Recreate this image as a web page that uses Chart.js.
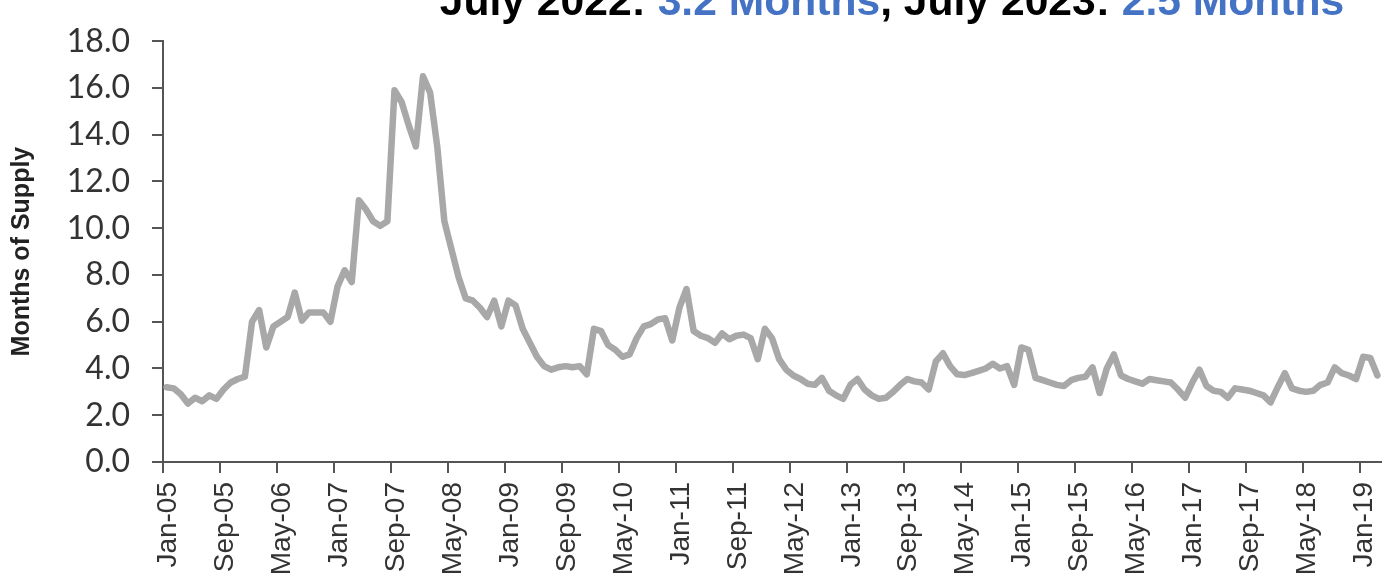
<!DOCTYPE html>
<html>
<head>
<meta charset="utf-8">
<script src="https://cdn.jsdelivr.net/npm/chart.js@4"></script>
<style>
  html, body { margin: 0; padding: 0; background: #fff; overflow: hidden; }
  canvas { display: block; }
</style>
</head>
<body>
<canvas id="supply" width="1388" height="582"></canvas>
<script>
// months of supply, one array per year
const v2005 = [3.2, 3.15, 2.9, 2.5, 2.75, 2.6, 2.85, 2.7, 3.1, 3.4, 3.55, 3.65];
const v2006 = [6.0, 6.5, 4.9, 5.8, 6.0, 6.2, 7.25, 6.05, 6.4, 6.4, 6.4, 6.0];
const v2007 = [7.5, 8.2, 7.7, 11.2, 10.8, 10.3, 10.1, 10.3, 15.9, 15.4, 14.4, 13.5];
const v2008 = [16.5, 15.8, 13.5, 10.3, 9.1, 7.9, 7.0, 6.9, 6.6, 6.2, 6.9, 5.8];
const v2009 = [6.9, 6.7, 5.7, 5.1, 4.5, 4.1, 3.95, 4.05, 4.1, 4.05, 4.1, 3.75];
const v2010 = [5.7, 5.6, 5.0, 4.8, 4.5, 4.6, 5.3, 5.8, 5.9, 6.1, 6.15, 5.2];
const v2011 = [6.6, 7.4, 5.6, 5.4, 5.3, 5.1, 5.5, 5.25, 5.4, 5.45, 5.3, 4.4];
const v2012 = [5.7, 5.3, 4.4, 3.95, 3.7, 3.55, 3.35, 3.3, 3.6, 3.05, 2.85, 2.7];
const v2013 = [3.3, 3.55, 3.1, 2.85, 2.7, 2.75, 3.0, 3.3, 3.55, 3.45, 3.4, 3.1];
const v2014 = [4.3, 4.65, 4.1, 3.75, 3.72, 3.8, 3.9, 4.0, 4.2, 4.0, 4.1, 3.3];
const v2015 = [4.9, 4.8, 3.6, 3.5, 3.4, 3.3, 3.25, 3.5, 3.6, 3.65, 4.05, 2.95];
const v2016 = [4.0, 4.6, 3.7, 3.55, 3.45, 3.35, 3.55, 3.5, 3.45, 3.4, 3.1, 2.75];
const v2017 = [3.4, 3.95, 3.25, 3.05, 3.0, 2.75, 3.15, 3.1, 3.05, 2.95, 2.85, 2.55];
const v2018 = [3.2, 3.8, 3.15, 3.05, 3.0, 3.05, 3.3, 3.4, 4.05, 3.8, 3.7, 3.55];
const v2019 = [4.5, 4.45, 3.7];

const monthNames = ["Jan", "Feb", "Mar", "Apr", "May", "Jun", "Jul", "Aug", "Sep", "Oct", "Nov", "Dec"];
const firstYear = 5;
const tickEvery = 8;

const yTitle = "Months of Supply";
const titleParts = [
  ["July 2022: ", "#000000"],
  ["3.2 Months", "#4472c4"],
  [", July 2023: ", "#000000"],
  ["2.5 Months", "#4472c4"]
];

const supply = [].concat(v2005, v2006, v2007, v2008, v2009, v2010, v2011, v2012,
                         v2013, v2014, v2015, v2016, v2017, v2018, v2019);

const labels = supply.map(function(_, i) {
  const yr = firstYear + Math.floor(i / 12);
  return monthNames[i % 12] + "-" + (yr < 10 ? "0" + yr : yr);
});

// each month sits in the middle of its slot, like in Excel
const points = supply.map((v, i) => ({ x: i + 0.5, y: v }));

// title is drawn in pieces so the numbers can be blue
const titlePlugin = {
  id: "splitTitle",
  afterDraw(chart) {
    const ctx = chart.ctx;
    ctx.save();
    let size = 36;
    ctx.font = "bold " + size + "px 'Liberation Sans', Arial, sans-serif";
    let full = titleParts.map(p => p[0]).join("");
    let w = ctx.measureText(full).width;
    size = size * 905 / w;
    ctx.font = "bold " + size + "px 'Liberation Sans', Arial, sans-serif";
    w = ctx.measureText(full).width;
    let x = 892 - w / 2;
    ctx.textBaseline = "alphabetic";
    ctx.textAlign = "left";
    titleParts.forEach(function(p) {
      ctx.fillStyle = p[1];
      ctx.fillText(p[0], x, 15);
      x += ctx.measureText(p[0]).width;
    });
    ctx.restore();
  }
};

const ctx = document.getElementById("supply").getContext("2d");

new Chart(ctx, {
  type: "line",
  data: {
    datasets: [{
      data: points,
      borderColor: "#a8a8a8",
      borderWidth: 6.5,
      borderJoinStyle: "round",
      borderCapStyle: "round",
      pointRadius: 0,
      tension: 0,
      fill: false
    }]
  },
  options: {
    responsive: false,
    animation: false,
    layout: { padding: { left: 0, right: 7, top: 24, bottom: 0 } },
    plugins: {
      legend: { display: false },
      tooltip: { enabled: false },
      title: { display: false }
    },
    scales: {
      x: {
        type: "linear",
        min: 0,
        max: labels.length,
        afterBuildTicks: function(axis) {
          axis.ticks = labels.map((_, i) => i)
            .filter(i => i % tickEvery === 0)
            .map(i => ({ value: i }));
        },
        afterFit: function(s) {
          s.height = 120;
          s.paddingLeft = 0;
          s.paddingRight = 0;
        },
        grid: {
          drawOnChartArea: false,
          drawTicks: true,
          tickLength: 11,
          color: "#555555",
          lineWidth: 2
        },
        border: { display: true, color: "#555555", width: 2 },
        ticks: {
          autoSkip: false,
          minRotation: 90,
          maxRotation: 90,
          padding: 9,
          labelOffset: 5,
          color: "#333333",
          font: { family: "'Liberation Sans', Arial, sans-serif", size: 28 },
          callback: v => labels[v]
        }
      },
      y: {
        min: 0,
        max: 18,
        afterFit: function(s) { s.width = 163; },
        grid: {
          drawOnChartArea: false,
          drawTicks: true,
          tickLength: 11,
          color: "#555555",
          lineWidth: 2
        },
        border: { display: true, color: "#555555", width: 2 },
        ticks: {
          stepSize: 2,
          padding: 22,
          color: "#333333",
          font: { family: "Lato, 'Liberation Sans', sans-serif", size: 32 },
          callback: v => v.toFixed(1)
        },
        title: {
          display: true,
          text: yTitle,
          color: "#222222",
          padding: { top: 7, bottom: 0 },
          font: { family: "'Liberation Sans', Arial, sans-serif", size: 25, weight: "bold" }
        }
      }
    }
  },
  plugins: [titlePlugin]
});
</script>
</body>
</html>
